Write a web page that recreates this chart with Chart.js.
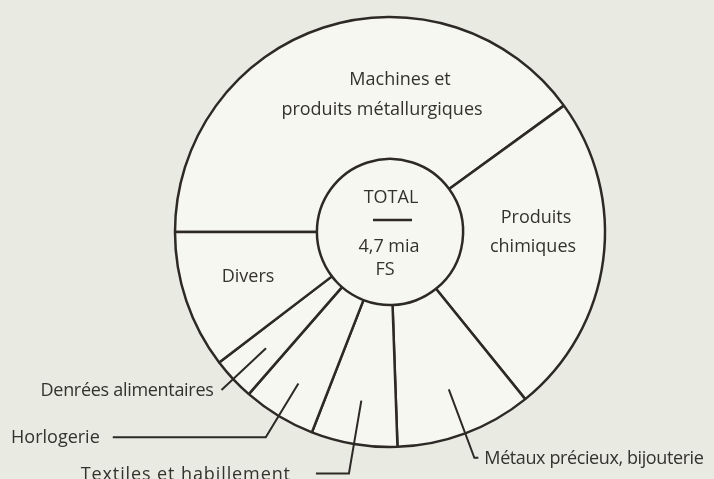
<!DOCTYPE html>
<html>
<head>
<meta charset="utf-8">
<title>Exportations - TOTAL 4,7 mia FS</title>
<script src="https://cdn.jsdelivr.net/npm/chart.js@4"></script>
<style>
    body { margin: 0; background: #e9ebe2; }
    canvas { display: block; }
</style>
</head>
<body>
<canvas id="chart" width="714" height="479"></canvas>
<script>
    // values (million FS, sum 4700)
    const categories = ['Machines et produits métallurgiques', 'Produits chimiques', 'Métaux précieux, bijouterie',
        'Textiles et habillement', 'Horlogerie', 'Denrées alimentaires', 'Divers'];
    const valuesMioFS = [1880, 1136, 483, 304, 258, 151, 488];
    const totalLines = ['TOTAL', '4,7 mia', 'FS'];

    // text placement: lines inside a segment, offsets from chart centre
    const insideText = [
        { lines: ['Machines et', 'produits métallurgiques'], dx: [10, -8], dy: [-152, -122] },
        { lines: ['Produits', 'chimiques'], dx: [146, 143], dy: [-14, 15] },
        { lines: ['Divers'], dx: [-142], dy: [45] },
    ];
    // leader lines for the narrow segments (index into categories)
    const leaders = [
        { idx: 2, r0: 168, r1: 241, h: 4, gap: 6, spacing: -0.4 },
        { idx: 3, r0: 171, r1: 245, h: -33, gap: 25, spacing: 0.9 },
        { idx: 4, r0: 177, r1: 240, h: -153, gap: 13, spacing: 0 },
        { idx: 5, r0: 170, r1: 231, h: 0, gap: 8, spacing: -0.3 },
    ];

    const ink = '#2d2a25';
    const textInk = '#34322d';
    const paper = '#f7f7f2';
    const font = '18px "Open Sans", sans-serif';

    const annotate = {
        id: 'annotate',
        beforeDatasetsDraw(chart) {
            const arc = chart.getDatasetMeta(0).data[0];
            const ctx = chart.ctx;
            ctx.save();
            ctx.fillStyle = paper;
            ctx.beginPath();
            ctx.arc(arc.x, arc.y, arc.innerRadius, 0, Math.PI * 2);
            ctx.fill();
            ctx.restore();
        },
        afterDatasetsDraw(chart) {
            const arcs = chart.getDatasetMeta(0).data;
            const cx = arcs[0].x, cy = arcs[0].y;
            const ctx = chart.ctx;
            ctx.save();
            ctx.font = font;
            ctx.fillStyle = textInk;
            ctx.textBaseline = 'middle';
            ctx.textAlign = 'center';

            insideText.forEach(t => {
                t.lines.forEach((s, i) => ctx.fillText(s, cx + t.dx[i], cy + t.dy[i]));
            });

            // centre
            ctx.fillText(totalLines[0], cx + 1, cy - 34);
            ctx.fillText(totalLines[1], cx - 1, cy + 15);
            ctx.fillText(totalLines[2], cx - 5, cy + 38);
            ctx.strokeStyle = ink;
            ctx.lineWidth = 2.5;
            ctx.beginPath();
            ctx.moveTo(cx - 17, cy - 12);
            ctx.lineTo(cx + 22, cy - 12);
            ctx.stroke();

            // leaders
            ctx.lineWidth = 2;
            leaders.forEach(l => {
                const a = arcs[l.idx];
                const mid = (a.startAngle + a.endAngle) / 2;
                const x0 = cx + l.r0 * Math.cos(mid), y0 = cy + l.r0 * Math.sin(mid);
                const x1 = cx + l.r1 * Math.cos(mid), y1 = cy + l.r1 * Math.sin(mid);
                const x2 = x1 + l.h;
                ctx.beginPath();
                ctx.moveTo(x0, y0);
                ctx.lineTo(x1, y1);
                ctx.lineTo(x2, y1);
                ctx.stroke();
                const right = Math.cos(mid) > 0;
                ctx.letterSpacing = l.spacing + 'px';
                ctx.textAlign = right ? 'left' : 'right';
                ctx.fillText(categories[l.idx], right ? x2 + l.gap : x2 - l.gap, y1 + 1);
            });
            ctx.restore();
        }
    };

    new Chart(document.getElementById('chart'), {
        type: 'doughnut',
        data: {
            labels: categories,
            datasets: [{
                data: valuesMioFS,
                backgroundColor: paper,
                borderColor: ink,
                borderWidth: 2.5,
            }],
        },
        options: {
            responsive: false,
            animation: false,
            rotation: 270,
            radius: 215,
            cutout: '34%',
            layout: { padding: { left: 66, right: 0, top: 0, bottom: 15 } },
            plugins: {
                legend: { display: false },
                tooltip: { enabled: false },
            },
        },
        plugins: [annotate],
    });
</script>
</body>
</html>
